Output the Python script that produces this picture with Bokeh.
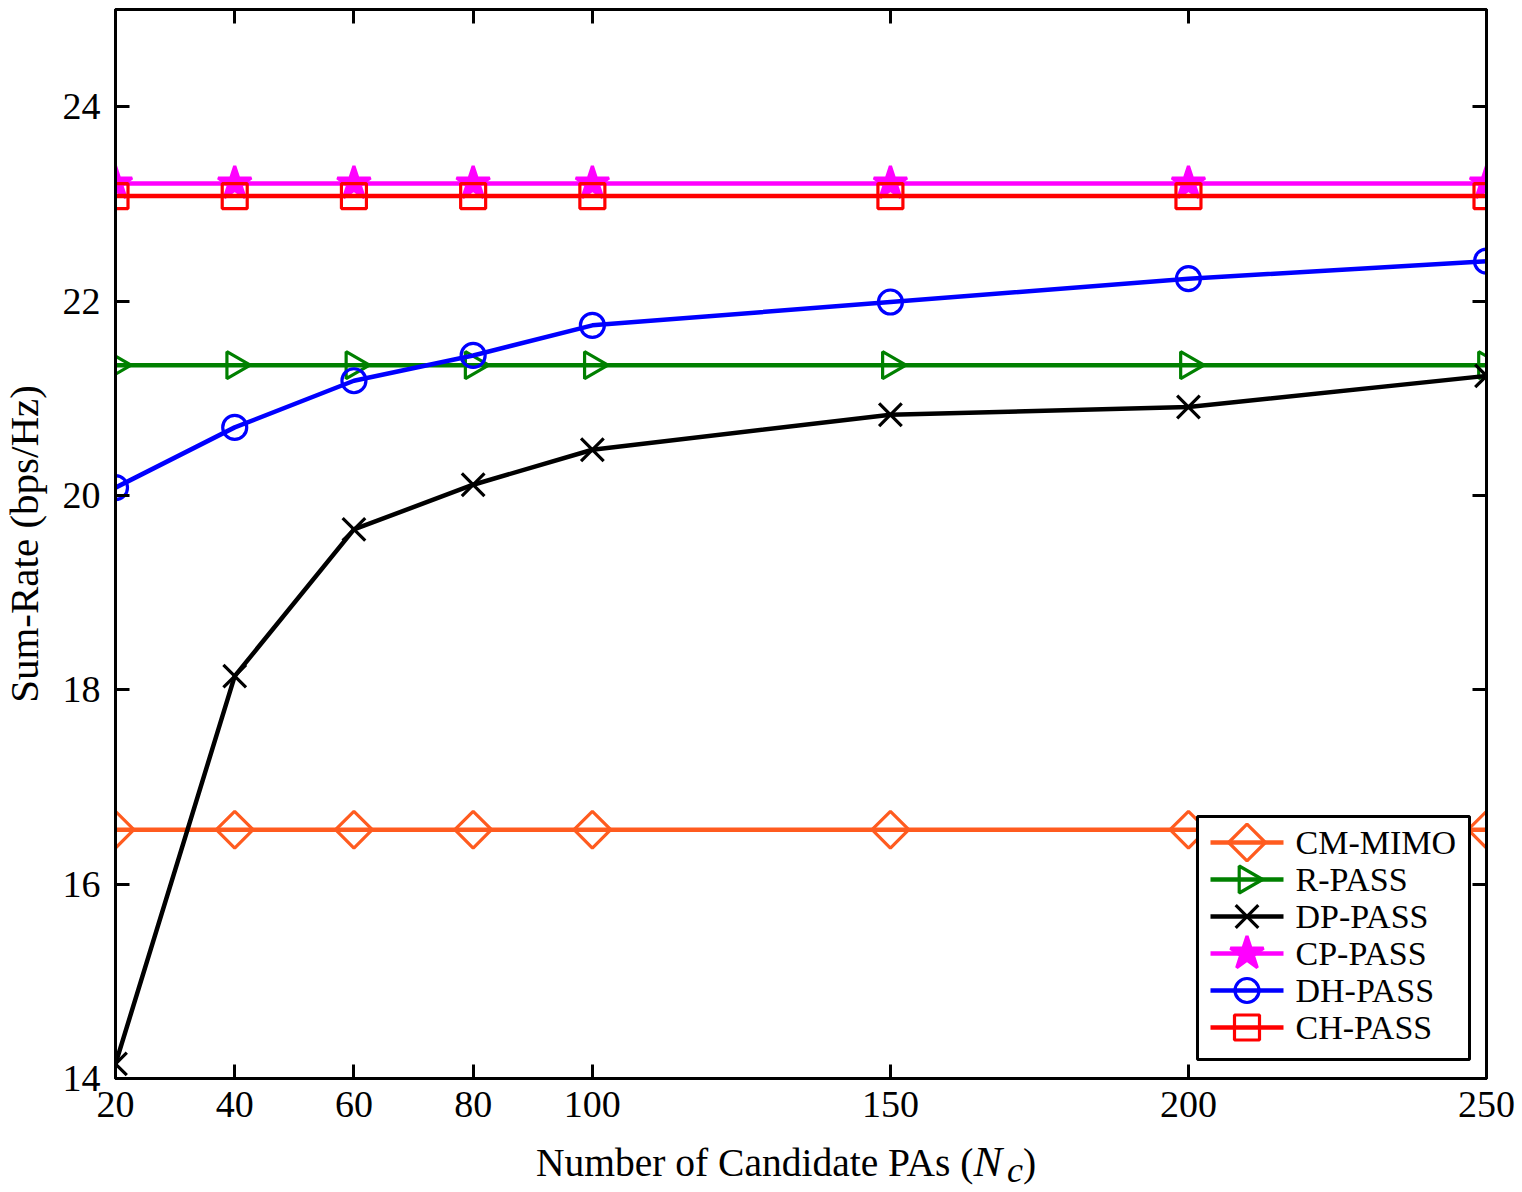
import math
from bokeh.plotting import figure
from bokeh.models import FixedTicker, LinearAxis, Range1d, Div
from bokeh.layouts import column
from bokeh.embed import file_html
from bokeh.resources import INLINE
from bokeh.core.properties import value

# ---------------- data ----------------
num_pas = [20, 40, 60, 80, 100, 150, 200, 250]
cm_mimo = [16.56, 16.56, 16.56, 16.56, 16.56, 16.56, 16.56, 16.56]
r_pass = [21.34, 21.34, 21.34, 21.34, 21.34, 21.34, 21.34, 21.34]
dp_pass = [14.15, 18.14, 19.65, 20.11, 20.47, 20.83, 20.91, 21.23]
cp_pass = [23.21, 23.21, 23.21, 23.21, 23.21, 23.21, 23.21, 23.21]
dh_pass = [20.08, 20.70, 21.18, 21.44, 21.75, 21.99, 22.23, 22.41]
ch_pass = [23.08, 23.08, 23.08, 23.08, 23.08, 23.08, 23.08, 23.08]

series_names = ["CM-MIMO", "R-PASS", "DP-PASS", "CP-PASS", "DH-PASS", "CH-PASS"]
series_values = [cm_mimo, r_pass, dp_pass, cp_pass, dh_pass, ch_pass]

x_ticks = [20, 40, 60, 80, 100, 150, 200, 250]
y_ticks = [14, 16, 18, 20, 22, 24]

x_label_main = "Number of Candidate PAs ("
x_label_var = "N"
x_label_sub = "c"
x_label_end = ")"
y_label = "Sum-Rate (bps/Hz)"

# ---------------- styles ----------------
FONT = "Liberation Serif"
styles = [
    dict(color="#FF5B1F", marker="square", size=26, angle=math.pi / 4, fill=False),
    dict(color="#008000", marker="triangle", size=27, angle=-math.pi / 2, fill=False),
    dict(color="#000000", marker="x", size=32, angle=0.0, fill=False),
    dict(color="#FF00FF", marker="star", size=35, angle=0.0, fill=True),
    dict(color="#0000FF", marker="circle", size=24, angle=0.0, fill=False),
    dict(color="#FF0000", marker="square", size=25, angle=0.0, fill=False),
]
LINE_W = 4.5
MARK_W = 3.2

FRAME_W = 1371
FRAME_H = 1069
SHIFT_L = 5
BORDER_L = 115 + SHIFT_L
BORDER_R = 30
BORDER_T = 9
BORDER_B = 60
FIG_W = BORDER_L + FRAME_W + BORDER_R

p = figure(
    frame_width=FRAME_W, frame_height=FRAME_H,
    x_range=Range1d(20, 250), y_range=Range1d(14, 25),
    output_backend="svg", toolbar_location=None,
    min_border_left=BORDER_L, min_border_top=BORDER_T,
    min_border_right=BORDER_R, min_border_bottom=BORDER_B,
    background_fill_color="white", border_fill_color="white",
    margin=(0, 0, 0, -SHIFT_L),
)
p.grid.visible = False
p.outline_line_color = "black"
p.outline_line_width = 3

# pixel ranges of the frame, used for the legend layout
p.extra_x_ranges = {"px": Range1d(0, FRAME_W)}
p.extra_y_ranges = {"py": Range1d(0, FRAME_H)}


def style_axis(ax, ticks, show_labels):
    ax.ticker = FixedTicker(ticks=ticks)
    ax.minor_tick_line_color = None
    ax.major_tick_in = 14
    ax.major_tick_out = 0
    ax.major_tick_line_width = 3
    ax.major_tick_line_color = "black"
    ax.axis_line_width = 3
    ax.axis_line_color = "black"
    if show_labels:
        ax.major_label_text_font = FONT
        ax.major_label_text_font_size = "38px"
        ax.major_label_text_color = "black"
    else:
        ax.major_label_overrides = {t: "" for t in ticks}
        ax.major_label_text_font_size = "1px"
        ax.major_label_text_color = None
        ax.major_label_standoff = 0


xa = p.xaxis[0]
ya = p.yaxis[0]
style_axis(xa, x_ticks, True)
style_axis(ya, y_ticks, True)
xa.major_label_standoff = 13
ya.major_label_standoff = 15
ya.axis_label = y_label
ya.axis_label_text_font = FONT
ya.axis_label_text_font_size = "41px"
ya.axis_label_text_font_style = "normal"
ya.axis_label_text_color = "black"
ya.axis_label_standoff = 13

top_ax = LinearAxis()
right_ax = LinearAxis()
style_axis(top_ax, x_ticks, False)
style_axis(right_ax, y_ticks, False)
p.add_layout(top_ax, "above")
p.add_layout(right_ax, "right")

# ---------------- series ----------------
for name, vals, st in zip(series_names, series_values, styles):
    p.line(num_pas, vals, line_color=st["color"], line_width=LINE_W)
    p.scatter(num_pas, vals, marker=st["marker"], size=st["size"], angle=st["angle"],
              line_color=st["color"], line_width=MARK_W,
              fill_color=st["color"] if st["fill"] else None)

# ---------------- legend (frame pixel coordinates) ----------------
LEG_L, LEG_R, LEG_B, LEG_T = 1082, 1354, 19, 262
ROW0 = LEG_T - 26
ROW_STEP = 37
GL0, GL1 = 1095, 1168
TXT_X = 1180

p.quad(left=[LEG_L], right=[LEG_R], bottom=[LEG_B], top=[LEG_T],
       fill_color="white", line_color="black", line_width=3,
       x_range_name="px", y_range_name="py")
for i, (name, st) in enumerate(zip(series_names, styles)):
    yc = ROW0 - i * ROW_STEP
    p.line([GL0, GL1], [yc, yc], line_color=st["color"], line_width=LINE_W,
           x_range_name="px", y_range_name="py")
    p.scatter([(GL0 + GL1) / 2], [yc], marker=st["marker"], size=st["size"], angle=st["angle"],
              line_color=st["color"], line_width=MARK_W,
              fill_color=st["color"] if st["fill"] else None,
              x_range_name="px", y_range_name="py")
    p.text([TXT_X], [yc], text=[name], text_font=value(FONT), text_font_size=value("34px"),
           text_baseline="middle", text_align="left", text_color="black",
           x_range_name="px", y_range_name="py")

# ---------------- x axis label (with italic N and subscript c) ----------------
label_html = (
    f'<div style="margin-left:536px; margin-top:2px; white-space:nowrap; line-height:1; '
    f'font-family:\'{FONT}\'; font-size:39.5px; color:black;">'
    f'{x_label_main}<i style="font-size:43px;">{x_label_var}</i>'
    f'<span style="font-style:italic; font-size:36px; position:relative; top:6px; '
    f'margin-left:5px;">{x_label_sub}</span>{x_label_end}</div>'
)
xlabel_div = Div(text=label_html, width=FIG_W, height=50, margin=(0, 0, 0, 0))

layout = column(p, xlabel_div, spacing=0)

open("out.html", "w").write(file_html(layout, INLINE))
